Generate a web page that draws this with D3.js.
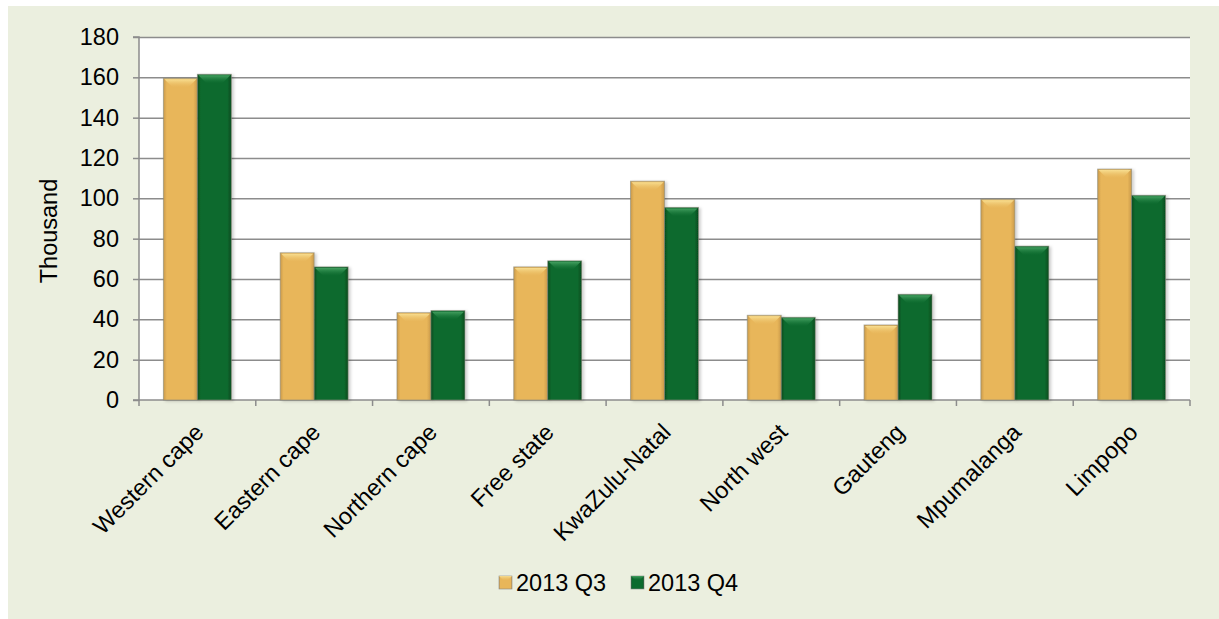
<!DOCTYPE html>
<html><head><meta charset="utf-8">
<script src="https://cdn.jsdelivr.net/npm/d3@7"></script>
<style>body{margin:0;background:#fff;}svg{display:block;font-family:"Liberation Sans",Arial,sans-serif;}</style>
</head><body>
<svg id="c" width="1219" height="619"></svg>
<script>
const categories = ["Western cape","Eastern cape","Northern cape","Free state","KwaZulu-Natal","North west","Gauteng","Mpumalanga","Limpopo"];
const seriesNames = ["2013 Q3","2013 Q4"];
const q3 = [159.5, 73, 43.3, 66, 108.5, 42, 37.2, 99.5, 114.5];
const q4 = [161.5, 66, 44.3, 69, 95.5, 41, 52.4, 76.3, 101.5];
const yTicks = [0,20,40,60,80,100,120,140,160,180];

const FS = 23.5;
const svg = d3.select("#c");
const defs = svg.append("defs");
const colors = {
  "2013 Q3": {base:"#E8B65A", dark:"#C9994A", top:"#F8DE90"},
  "2013 Q4": {base:"#0B6A2E", dark:"#054A1D", top:"#44A060"}
};
seriesNames.forEach((s,i)=>{
  const c = colors[s];
  const g = defs.append("linearGradient").attr("id","g"+i).attr("x1","0").attr("x2","1").attr("y1","0").attr("y2","0");
  g.append("stop").attr("offset","0").attr("stop-color",c.dark);
  g.append("stop").attr("offset","0.1").attr("stop-color",c.base);
  g.append("stop").attr("offset","0.88").attr("stop-color",c.base);
  g.append("stop").attr("offset","1").attr("stop-color",c.dark);
  const t = defs.append("linearGradient").attr("id","t"+i).attr("x1","0").attr("x2","0").attr("y1","0").attr("y2","1");
  t.append("stop").attr("offset","0").attr("stop-color",c.top).attr("stop-opacity",1);
  t.append("stop").attr("offset","1").attr("stop-color",c.base).attr("stop-opacity",0.3);
});
const f = defs.append("filter").attr("id","sh").attr("x","-10%").attr("y","-10%").attr("width","130%").attr("height","130%");
f.append("feDropShadow").attr("dx",2).attr("dy",1).attr("stdDeviation",1.5).attr("flood-color","#000").attr("flood-opacity",0.2);

// background panel
svg.append("rect").attr("x",8).attr("y",6).attr("width",1211).attr("height",613).attr("fill","#EBEFDF");

const m = {l:139, r:1190, t:37, b:400};
const x0 = d3.scaleBand().domain(categories).range([m.l,m.r]).paddingInner(0.418).paddingOuter(0.209);
const x1 = d3.scaleBand().domain(seriesNames).range([0,x0.bandwidth()]);
const y = d3.scaleLinear().domain([0,180]).range([m.b,m.t]);

// plot area
svg.append("rect").attr("x",m.l).attr("y",m.t).attr("width",m.r-m.l).attr("height",m.b-m.t).attr("fill","#fff");

// grid
svg.append("g").selectAll("line").data(yTicks.filter(d=>d>0)).join("line")
  .attr("x1",m.l).attr("x2",m.r).attr("y1",d=>y(d)+0.5).attr("y2",d=>y(d)+0.5)
  .attr("stroke","#8C8C8C").attr("stroke-width",1.5);

// y axis
const ya = svg.append("g").attr("transform",`translate(${m.l},0)`)
  .call(d3.axisLeft(y).tickValues(yTicks).tickSize(6).tickPadding(14));
ya.select(".domain").attr("stroke","#8C8C8C").attr("stroke-width",1.5).attr("d",`M-6,${m.t}H0V${m.b}H-6`);
ya.selectAll(".tick line").attr("stroke","#8C8C8C").attr("stroke-width",1.5);
ya.selectAll(".tick text").attr("font-size",FS).attr("fill","#000").attr("font-family","Liberation Sans, Arial, sans-serif");

// x axis
const xa = svg.append("g").attr("transform",`translate(0,${m.b})`);
xa.append("line").attr("x1",m.l).attr("x2",m.r).attr("y1",0).attr("y2",0).attr("stroke","#8C8C8C").attr("stroke-width",1.5);
const step = x0.step();
const boundaries = d3.range(categories.length+1).map(i=>m.l+i*step);
xa.selectAll("line.t").data(boundaries).join("line").attr("class","t")
  .attr("x1",d=>d).attr("x2",d=>d).attr("y1",0).attr("y2",6).attr("stroke","#8C8C8C").attr("stroke-width",1.5);
xa.selectAll("text").data(categories).join("text")
  .attr("transform",d=>`translate(${x0(d)+x0.bandwidth()/2-4},${22}) rotate(-45)`)
  .attr("text-anchor","end").attr("dy","0.7em").attr("font-size",FS).attr("fill","#000").text(d=>d);

// y title
svg.append("text").attr("transform",`translate(57,${231}) rotate(-90)`).attr("text-anchor","middle")
  .attr("font-size",FS).attr("fill","#000").text("Thousand");

// bars
const data = categories.map((c,i)=>({c, vals:[{s:seriesNames[0],v:q3[i]},{s:seriesNames[1],v:q4[i]}]}));
const grp = svg.append("g").selectAll("g").data(data).join("g").attr("transform",d=>`translate(${x0(d.c)},0)`);
grp.selectAll("g").data(d=>d.vals).join("g").each(function(d,i){
  const g = d3.select(this);
  const bx = x1(d.s), bw = x1.bandwidth(), by = y(d.v), bh = y(0)-y(d.v);
  g.append("rect").attr("x",bx).attr("y",by).attr("width",bw).attr("height",bh)
    .attr("fill",`url(#g${i})`).attr("stroke","#8a8a7a").attr("stroke-opacity",0.6).attr("stroke-width",1).attr("filter","url(#sh)");
  const bev = 9;
  g.append("path").attr("d",`M${bx+1},${by+1}H${bx+bw-1}L${bx+bw-bev},${by+bev}H${bx+bev}Z`).attr("fill",`url(#t${i})`);
});

// legend
const lg = svg.append("g");
const lx = [499, 631];
seriesNames.forEach((s,i)=>{
  lg.append("rect").attr("x",lx[i]).attr("y",576).attr("width",13).attr("height",13).attr("fill",`url(#g${i})`).attr("stroke","#888").attr("stroke-width",0.6);
  lg.append("path").attr("d",`M${lx[i]},${576}H${lx[i]+13}L${lx[i]+8.5},${580.5}H${lx[i]+4.5}Z`).attr("fill",`url(#t${i})`);
  lg.append("text").attr("x",lx[i]+17).attr("y",591).attr("font-size",FS).attr("fill","#000").text(s);
});
</script>
</body></html>
